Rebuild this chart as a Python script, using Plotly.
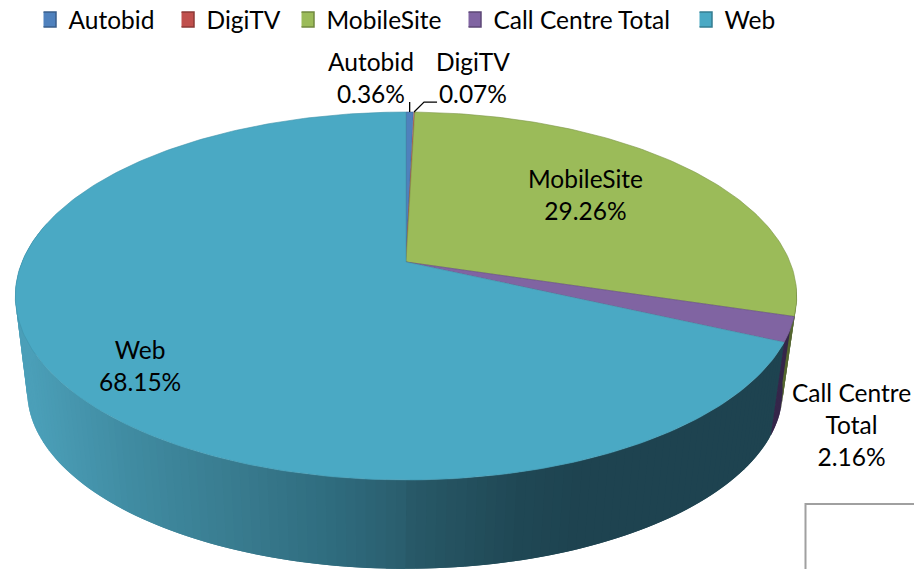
import numpy as np
import plotly.graph_objects as go

# ---- data ----
categories = ["Autobid", "DigiTV", "MobileSite", "Call Centre Total", "Web"]
shares = [0.36, 0.07, 29.26, 2.16, 68.15]
slice_labels = ["Autobid", "DigiTV", "MobileSite", "Call Centre<br>Total", "Web"]
# ---- styles ----
face_colors = ["#4f81bd", "#c0504d", "#9bbb59", "#8064a2", "#4aa9c4"]
edge_colors = ["#3f6797", "#9a403e", "#7c9647", "#665082", "#3f93ab"]
swatch_edges = ["#385d8a", "#8c3836", "#71893f", "#5c4776", "#357d91"]
wall_colors = ["#2a4468", "#6b2c2a", "#55682f", "#35264a", None]
web_wall_stops = [(27, (75, 159, 184)), (125, (64, 139, 161)), (250, (55, 120, 139)),
                  (330, (47, 107, 125)), (400, (42, 93, 108)), (530, (32, 72, 85)),
                  (600, (30, 67, 80)), (800, (30, 67, 80))]
legend_left_x = [43.5, 181.5, 301.5, 468.5, 699.5]
FONT = "Lato"
FS = 24.5

# projection of the tilted disc onto the page
CX, APEX_Y, B, A, K = 406.0, 262.0, 384.0, 177.7, 0.185
LOW_SCALE, LOW_Y = 0.967, 358.0


def top(theta):
    u, v = np.sin(theta), np.cos(theta)
    d = 1 + K * v
    return CX + B * u / d, APEX_Y - A * v / d


def low(theta):
    u, v = np.sin(theta), np.cos(theta)
    d = 1 + K * v
    return CX - 1 + LOW_SCALE * B * u / d, LOW_Y - LOW_SCALE * A * v / d


def web_wall(x):
    xs = [s[0] for s in web_wall_stops]
    rgb = [np.interp(x, xs, [s[1][i] for s in web_wall_stops]) for i in range(3)]
    return "rgb(%d,%d,%d)" % tuple(int(c) for c in rgb)


edges = np.concatenate([[0], np.cumsum(shares)]) / sum(shares) * 2 * np.pi
fig = go.Figure()

# side wall: each strip overlaps the next one so that no seams show
steps = np.linspace(np.radians(98), np.radians(283), 150)
dt = steps[1] - steps[0]
order = list(zip(steps[:-1], steps[1:]))
right = [s for s in order if s[0] < np.pi]
left = [s for s in order if s[0] >= np.pi]
for t0, t1 in right[::-1] + left:
    mid = (t0 + t1) / 2
    i = int(np.searchsorted(edges, mid) - 1)
    if t0 < np.pi:
        tt = np.linspace(t0, min(t1 + dt, edges[i + 1]), 4)
    else:
        tt = np.linspace(t0 - dt, t1, 4)
    xa, ya = top(tt)
    xb, yb = low(tt[::-1])
    col = wall_colors[i] or web_wall(float(top(mid)[0]))
    fig.add_trace(go.Scatter(x=np.r_[xa, xb, xa[0]], y=np.r_[ya, yb, ya[0]], mode="lines",
                             fill="toself", fillcolor=col, line=dict(color=col, width=0),
                             hoverinfo="skip", showlegend=False))

# top face
for i, name in enumerate(categories):
    tt = np.linspace(edges[i], edges[i + 1], max(3, int((edges[i + 1] - edges[i]) * 60)))
    xa, ya = top(tt)
    fig.add_trace(go.Scatter(x=np.r_[CX, xa, CX], y=np.r_[APEX_Y, ya, APEX_Y], mode="lines",
                             fill="toself", fillcolor=face_colors[i],
                             line=dict(color=edge_colors[i], width=0.6),
                             hoverinfo="skip", showlegend=False, name=name))

# legend entries: one single-entry legend per category, placed along the top
legend_layout = {}
for i, name in enumerate(categories):
    key = "legend" if i == 0 else f"legend{i + 1}"
    fig.add_trace(go.Scatter(x=[None], y=[None], mode="markers", name=name, legend=key,
                             marker=dict(symbol="square", size=15, color=face_colors[i],
                                         line=dict(color=swatch_edges[i], width=1.5))))
    legend_layout[key] = dict(orientation="h", x=legend_left_x[i] / 914, y=1 - 19.5 / 569,
                              xanchor="left", yanchor="middle", indentation=-15,
                              font=dict(family=FONT, size=FS, color="black"),
                              bgcolor="rgba(0,0,0,0)", itemsizing="trace",
                              itemclick=False, itemdoubleclick=False)

# leader lines
am = (edges[0] + edges[1]) / 2
dm = (edges[1] + edges[2]) / 2
ax, ay = top(am)
dx, dy = top(dm)
fig.add_trace(go.Scatter(x=[ax, ax], y=[ay, ay - 10], mode="lines", line=dict(color="black", width=1.3),
                         hoverinfo="skip", showlegend=False))
fig.add_trace(go.Scatter(x=[dx, dx + 10, dx + 23], y=[dy, dy - 10, dy - 10], mode="lines",
                         line=dict(color="black", width=1.3), hoverinfo="skip", showlegend=False))

# slice labels
label_pos = [(371, 77.5), (473, 77.5), (585, 194), (851, 424.5), (140, 365.5)]
for i, (lx, ly) in enumerate(label_pos):
    fig.add_annotation(x=lx, y=ly, text=f"{slice_labels[i]}<br>{shares[i]:.2f}%", showarrow=False,
                       font=dict(family=FONT, size=FS, color="black"), align="center",
                       xanchor="center", yanchor="middle")

fig.add_shape(type="rect", x0=805.5, y0=504, x1=930, y1=590, line=dict(color="#a0a0a0", width=2),
              fillcolor="white")

fig.update_layout(
    width=914, height=569, margin=dict(l=0, r=0, t=0, b=0, autoexpand=False),
    paper_bgcolor="white", plot_bgcolor="white",
    xaxis=dict(range=[0, 914], visible=False, fixedrange=True),
    yaxis=dict(range=[569, 0], visible=False, fixedrange=True),
    showlegend=True,
    **legend_layout,
)
fig.write_html("out.html", config={"displayModeBar": False},
               post_script="document.body.style.margin='0';")
